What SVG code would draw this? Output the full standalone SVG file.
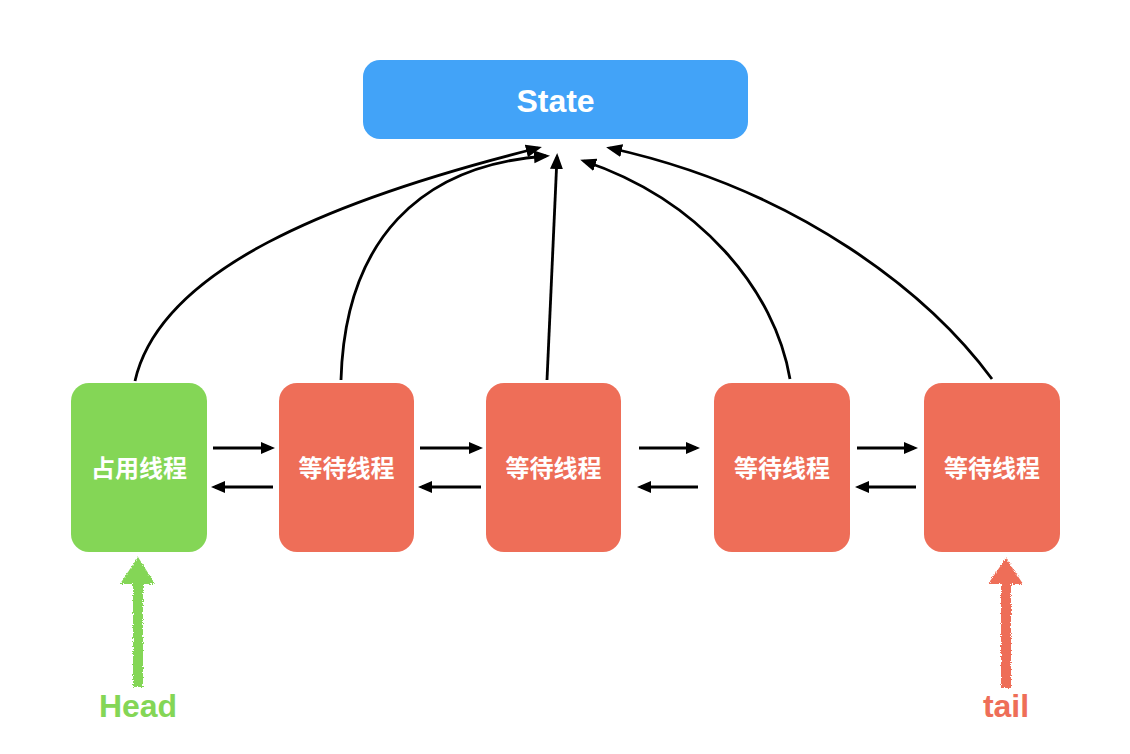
<svg xmlns="http://www.w3.org/2000/svg" width="1130" height="754" viewBox="0 0 1130 754">
  <style>
    .node-green { fill: #84d656; }
    .node-red { fill: #ee6e58; }
    .node-blue { fill: #42a3f8; }
    .label { font-family: "Helvetica Neue", "Liberation Sans", "Noto Sans CJK SC", sans-serif; font-weight: bold; fill: #ffffff; text-anchor: middle; }
    .cn { font-size: 24px; }
    .link { fill: none; stroke: #000; stroke-width: 2.8; }
    .flow { fill: none; stroke: #000; stroke-width: 3; }
    .pointer-text { font-family: "Helvetica Neue", "Liberation Sans", sans-serif; font-weight: bold; font-size: 32px; text-anchor: middle; }
  </style>
  <defs>
    <marker id="arrow" markerUnits="userSpaceOnUse" markerWidth="17" markerHeight="14" refX="12" refY="6.5" orient="auto">
      <path d="M0,0 L16,6.5 L0,13 z" fill="#000"/>
    </marker>
    <marker id="arrow-flow" markerUnits="userSpaceOnUse" markerWidth="16" markerHeight="14" refX="10" refY="6" orient="auto">
      <path d="M0,0 L14,6 L0,12 z" fill="#000"/>
    </marker>
    <!-- rough, chalky edge for the hand-drawn pointer arrows -->
    <filter id="rough" x="-30%" y="-10%" width="160%" height="120%">
      <feTurbulence type="fractalNoise" baseFrequency="0.9" numOctaves="2" seed="3" result="noise"/>
      <feDisplacementMap in="SourceGraphic" in2="noise" scale="4" xChannelSelector="R" yChannelSelector="G"/>
    </filter>
  </defs>

  <rect width="1130" height="754" fill="#ffffff"/>

  <!-- shared state -->
  <g id="state">
    <rect class="node-blue" x="363" y="60" width="385" height="79" rx="17"/>
    <text class="label" x="555.5" y="112" font-size="32">State</text>
  </g>

  <!-- queue nodes -->
  <g id="node-head">
    <rect class="node-green" x="71" y="383" width="136" height="169" rx="18"/>
    <text class="label cn" x="139" y="477">占用线程</text>
  </g>
  <g id="node-wait-1">
    <rect class="node-red" x="279" y="383" width="135" height="169" rx="18"/>
    <text class="label cn" x="346.5" y="477">等待线程</text>
  </g>
  <g id="node-wait-2">
    <rect class="node-red" x="486" y="383" width="135" height="169" rx="18"/>
    <text class="label cn" x="553.5" y="477">等待线程</text>
  </g>
  <g id="node-wait-3">
    <rect class="node-red" x="714" y="383" width="136" height="169" rx="18"/>
    <text class="label cn" x="782" y="477">等待线程</text>
  </g>
  <g id="node-tail">
    <rect class="node-red" x="924" y="383" width="136" height="169" rx="18"/>
    <text class="label cn" x="992" y="477">等待线程</text>
  </g>

  <!-- connectors -->
  <g id="connectors">
    <!-- every node refers to the state -->
    <path class="link" marker-end="url(#arrow)" d="M135 381 C160 270 330 200 538 148"/>
    <path class="link" marker-end="url(#arrow)" d="M341 380 C345 240 420 165 546 156"/>
    <path class="link" marker-end="url(#arrow)" d="M547 380 L557 157"/>
    <path class="link" marker-end="url(#arrow)" d="M790 379 C775 290 700 200 584 161"/>
    <path class="link" marker-end="url(#arrow)" d="M992 379 C930 295 800 190 610 148"/>

    <!-- next / prev links -->
    <path class="flow" marker-end="url(#arrow-flow)" d="M213 448 L271 448"/>
    <path class="flow" marker-end="url(#arrow-flow)" d="M273 487 L215 487"/>
    <path class="flow" marker-end="url(#arrow-flow)" d="M420 448 L479 448"/>
    <path class="flow" marker-end="url(#arrow-flow)" d="M481 487 L422 487"/>
    <path class="flow" marker-end="url(#arrow-flow)" d="M639 448 L696 448"/>
    <path class="flow" marker-end="url(#arrow-flow)" d="M698 487 L641 487"/>
    <path class="flow" marker-end="url(#arrow-flow)" d="M857 448 L914 448"/>
    <path class="flow" marker-end="url(#arrow-flow)" d="M916 487 L859 487"/>
  </g>

  <!-- head pointer -->
  <g id="head-pointer">
    <g filter="url(#rough)" fill="#84d656">
      <rect x="133" y="580" width="10" height="107"/>
      <path d="M138 557 L155 584 L120 584 z"/>
    </g>
    <text class="pointer-text" x="138" y="717" fill="#84d656">Head</text>
  </g>

  <!-- tail pointer -->
  <g id="tail-pointer">
    <g filter="url(#rough)" fill="#ee6e58">
      <rect x="1001" y="580" width="10" height="108"/>
      <path d="M1006 558 L1023 584 L988 584 z"/>
    </g>
    <text class="pointer-text" x="1006" y="717" fill="#ee6e58">tail</text>
  </g>
</svg>
